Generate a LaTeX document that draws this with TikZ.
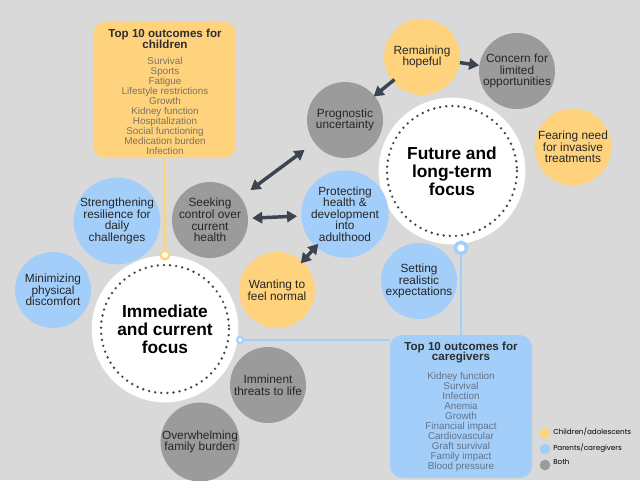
\documentclass[tikz,border=0pt]{standalone}
\usepackage{fontspec}
\setmainfont{Liberation Sans}
\newfontfamily\legendfont{Poppins}
\usetikzlibrary{arrows.meta}
\definecolor{paper}{RGB}{217,217,217}
\definecolor{kidyellow}{RGB}{255,211,125}
\definecolor{carerblue}{RGB}{163,206,250}
\definecolor{bothgray}{RGB}{155,155,155}
\definecolor{arrowgray}{RGB}{60,68,80}
\definecolor{dotgray}{RGB}{70,70,70}
\definecolor{kidtext}{RGB}{125,115,95}
\definecolor{carertext}{RGB}{100,115,135}
\definecolor{titletext}{RGB}{45,45,45}
\begin{document}
\begin{tikzpicture}[x=0.75pt,y=-0.75pt,
  theme/.style={circle,minimum size=57pt,inner sep=0pt,align=center,
    font=\fontsize{8.9}{8.7}\selectfont,text=black!85},
  kid/.style={theme,fill=kidyellow},
  carer/.style={theme,fill=carerblue},
  both/.style={theme,fill=bothgray},
  focus/.style={circle,fill=white,minimum size=110pt,inner sep=0pt,align=center,
    font=\fontsize{13}{13.5}\selectfont\bfseries},
  ring/.style={draw=dotgray,line width=2pt,dash pattern=on 0pt off 4.6pt,line cap=round},
  outbox/.style={rounded corners=9pt,inner sep=0pt},
  outtitle/.style={align=center,text=titletext,font=\fontsize{8.7}{8.2}\selectfont\bfseries},
  outlist/.style={align=center,font=\fontsize{7.4}{7.5}\selectfont},
  pin/.style={circle,fill=white,inner sep=0pt},
  link/.style={line width=2.2pt},
  pull/.style={-{Triangle[length=7.5pt,width=8.5pt]},line width=2.6pt,draw=arrowgray},
  push/.style={{Triangle[length=7.5pt,width=8.5pt]}-{Triangle[length=7.5pt,width=8.5pt]},
    line width=2.6pt,draw=arrowgray},
  legdot/.style={circle,minimum size=8pt,inner sep=0pt},
  legtext/.style={anchor=west,inner sep=0pt,font=\legendfont\fontsize{5.4}{5.5}\selectfont}]
  \fill[paper] (0,0) rectangle (640,480);
  \useasboundingbox (0,0) rectangle (640,480);
  \node[outbox,fill=kidyellow,minimum width=107pt,minimum height=102pt] (kidsbox) at (164.5,90) {};
  \node[outbox,fill=carerblue,minimum width=106.5pt,minimum height=107pt] (carerbox) at (461,406.5) {};
  \node[focus] (now)    at (165,329) {Immediate\\and current\\focus};
  \node[focus] (future) at (452,171) {Future and\\long-term\\focus};
  \draw[ring] (now.center)    circle[radius=64];
  \draw[ring] (future.center) circle[radius=65];
  \node[pin,draw=kidyellow,line width=1.7pt,minimum size=6.5pt] (kidsdot)   at (165,255) {};
  \node[pin,draw=carerblue,line width=2.6pt,minimum size=8.5pt] (futuredot) at (461,248) {};
  \node[pin,draw=carerblue,line width=1.4pt,minimum size=4.5pt] (nowdot)    at (240,340) {};
  \draw[link,kidyellow] (kidsbox.south) -- (kidsdot);
  \draw[link,carerblue] (futuredot) -- (carerbox.north);
  \draw[link,carerblue] (nowdot) -- (nowdot -| carerbox.west);
  \node[outtitle] (kidstitle)  at (165,38.5)  {Top 10 outcomes for\\children};
  \node[outlist,text=kidtext] (kidslist) at (165,106) {Survival\\Sports\\Fatigue\\Lifestyle restrictions\\Growth\\Kidney function\\Hospitalization\\Social functioning\\Medication burden\\Infection};
  \node[outtitle] (carertitle) at (461,352.5) {Top 10 outcomes for\\caregivers};
  \node[outlist,text=carertext] (carerlist) at (461,422) {Kidney function\\Survival\\Infection\\Anemia\\Growth\\Financial impact\\Cardiovascular\\Graft survival\\Family impact\\Blood pressure};
  \node[kid]   (hope)    at (422,57)  {Remaining\\hopeful};
  \node[both]  (concern) at (517,71)  {Concern for\\limited\\opportunities};
  \node[both]  (prog)    at (345,120) {Prognostic\\uncertainty};
  \node[kid]   (fear)    at (573,147) {Fearing need\\for invasive\\treatments};
  \node[both]  (seek)    at (210,220) {Seeking\\control over\\current\\health};
  \node[carer] (protect) at (345,214) {Protecting\\health \&\\development\\into\\adulthood};
  \node[carer] (resil)   at (117,221) {Strengthening\\resilience for\\daily\\challenges};
  \node[carer] (comfort) at (53,290)  {Minimizing\\physical\\discomfort};
  \node[kid]   (normal)  at (277,290) {Wanting to\\feel normal};
  \node[carer] (expect)  at (419,281) {Setting\\realistic\\expectations};
  \node[both]  (threat)  at (268,385) {Imminent\\threats to life};
  \node[both]  (burden)  at (200,442) {Overwhelming\\family burden};
  \draw[pull,shorten <=-2pt,shorten >=-1pt] (hope) -- (prog);
  \draw[pull,shorten <=0pt,shorten >=0pt] (hope) -- (concern);
  \draw[push,shorten <=9pt,shorten >=9pt] (prog) -- (seek);
  \draw[push,shorten <=3pt,shorten >=3pt] (seek) -- (protect);
  \draw[push,shorten <=-3pt,shorten >=-2pt] (protect) -- (normal);
  \node[legdot,fill=kidyellow] (legkid)   at (545,433) {};
  \node[legdot,fill=carerblue] (legcarer) at (545,449) {};
  \node[legdot,fill=bothgray]  (legboth)  at (545,465) {};
  \node[legtext] at (553,432) {Children/adolescents};
  \node[legtext] at (553,448) {Parents/caregivers};
  \node[legtext] at (553,462) {Both};
\end{tikzpicture}
\end{document}
